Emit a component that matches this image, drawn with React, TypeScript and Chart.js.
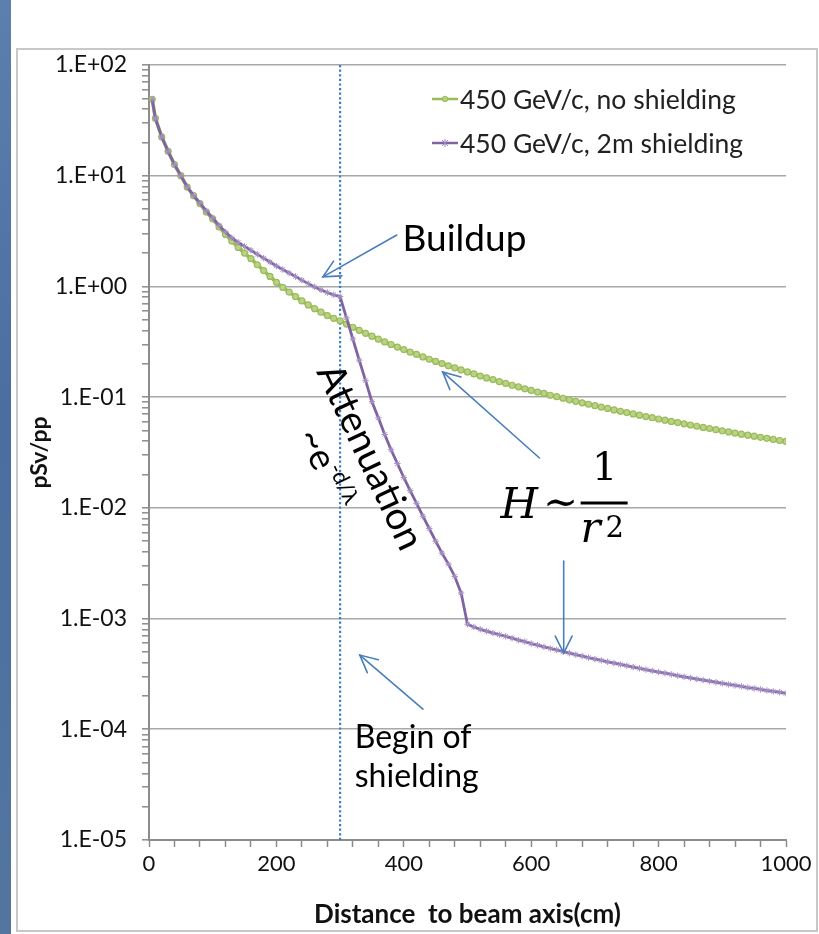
import React, { useEffect, useRef } from "react";
import { Chart, registerables } from "chart.js";

Chart.register(...registerables);

// ---------- data ----------
const distances = [
  5, 10, 20, 30, 40, 50, 60, 70, 80, 90, 100, 110, 120, 130, 140, 150, 160, 170, 180, 190, 200,
  210, 220, 230, 240, 250, 260, 270, 280, 290, 300,
  310, 320, 330, 340, 350, 360, 370, 380, 390, 400,
  410, 420, 430, 440, 450, 460, 470, 480, 490, 500,
  510, 520, 530, 540, 550, 560, 570, 580, 590, 600,
  610, 620, 630, 640, 650, 660, 670, 680, 690, 700,
  710, 720, 730, 740, 750, 760, 770, 780, 790, 800,
  810, 820, 830, 840, 850, 860, 870, 880, 890, 900,
  910, 920, 930, 940, 950, 960, 970, 980, 990, 1000,
];

const noShielding = [
  49, 33, 22.4, 16.6, 12.6, 10.0, 7.9, 6.6, 5.6, 4.7, 4.07, 3.45, 2.95, 2.57, 2.25, 2.0, 1.78, 1.57, 1.39, 1.23, 1.09,
  0.98, 0.89, 0.81, 0.74, 0.68, 0.63, 0.585, 0.545, 0.515, 0.49,
  0.457, 0.428, 0.401, 0.377, 0.355, 0.334, 0.315, 0.299, 0.283, 0.269,
  0.255, 0.243, 0.231, 0.22, 0.21, 0.201, 0.192, 0.184, 0.176, 0.169,
  0.162, 0.155, 0.149, 0.144, 0.138, 0.133, 0.128, 0.124, 0.119, 0.115,
  0.111, 0.108, 0.104, 0.101, 0.0977, 0.0946, 0.0916, 0.0889, 0.0863, 0.0838,
  0.0813, 0.0791, 0.0767, 0.0746, 0.0726, 0.0706, 0.0687, 0.0668, 0.0652, 0.0635,
  0.0619, 0.0604, 0.0589, 0.0574, 0.056, 0.0546, 0.0533, 0.0521, 0.0508, 0.0497,
  0.0485, 0.0474, 0.0463, 0.0453, 0.0444, 0.0434, 0.0425, 0.0415, 0.0406, 0.0398,
];

const shielding2m = [
  49, 33, 22.4, 16.6, 12.6, 10.0, 7.9, 6.6, 5.65, 4.8, 4.15, 3.55, 3.1, 2.75, 2.5, 2.3, 2.12, 1.95, 1.8, 1.66, 1.53,
  1.42, 1.32, 1.23, 1.14, 1.06, 0.99, 0.93, 0.88, 0.84, 0.81,
  0.52, 0.335, 0.216, 0.141, 0.091, 0.065, 0.046, 0.0335, 0.0251, 0.0188,
  0.0143, 0.011, 0.0084, 0.0065, 0.005, 0.0039, 0.0031, 0.0024, 0.0017, 0.00089,
  0.00084, 0.0008, 0.00077, 0.00074, 0.000715, 0.00069, 0.000665, 0.00064, 0.00062, 0.000595,
  0.000575, 0.000555, 0.000537, 0.00052, 0.000503, 0.000487, 0.000472, 0.000458, 0.000444, 0.000431,
  0.000419, 0.000407, 0.000396, 0.000385, 0.000375, 0.000365, 0.000355, 0.000346, 0.000337, 0.000329,
  0.000321, 0.000313, 0.000305, 0.000298, 0.000291, 0.000284, 0.000278, 0.000272, 0.000266, 0.00026,
  0.000254, 0.000249, 0.000244, 0.000238, 0.000234, 0.000229, 0.000224, 0.00022, 0.000216, 0.000211,
];

const seriesLabels = ["450 GeV/c, no shielding", "450 GeV/c, 2m shielding"];

const yMajorTicks = [1e-5, 1e-4, 1e-3, 1e-2, 1e-1, 1, 10, 100];
const yTickLabels = ["1.E-05", "1.E-04", "1.E-03", "1.E-02", "1.E-01", "1.E+00", "1.E+01", "1.E+02"];
const xTickLabels = [0, 200, 400, 600, 800, 1000];
const xMinorStep = 40;

const shieldStart = 300;

// annotation anchors, in data coordinates (distance, pSv/pp)
const buildupText = { d: 398, v: 2.09 };
const buildupArrow = { from: { d: 389, v: 2.91 }, to: { d: 273, v: 1.22 } };
const attenuationAnchor = { d: 262, v: 0.17 };
const formulaAnchor = { d: 552, v: 0.0081 };
const r2ArrowA = { from: { d: 613, v: 0.0282 }, to: { d: 461, v: 0.169 } };
const r2ArrowB = { from: { d: 651, v: 0.0033 }, to: { d: 651, v: 0.000488 } };
const beginArrow = { from: { d: 430, v: 0.000152 }, to: { d: 331, v: 0.000468 } };
const beginText = { d: 323, v: 6.8e-5 };

// ---------- styles ----------
const FONT = 'Lato, "Open Sans", sans-serif';
const MATH = '"DejaVu Serif", "Liberation Serif", serif';
const GREEN = "#9BBB59";
const PURPLE = "#8064A2";
const ARROW = "#4A7EBB";
const AXIS = "#8c8c8c";
const GRID = "#a8a8a8";

function buildYTicks() {
  const out: { value: number; major: boolean }[] = [];
  yMajorTicks.forEach((m, i) => {
    out.push({ value: m, major: true });
    if (i < yMajorTicks.length - 1) {
      for (let k = 2; k <= 9; k++) out.push({ value: parseFloat((m * k).toPrecision(3)), major: false });
    }
  });
  return out;
}

function buildXTicks() {
  const out: { value: number }[] = [];
  const max = xTickLabels[xTickLabels.length - 1];
  for (let v = xTickLabels[0]; v <= max; v += xMinorStep) out.push({ value: v });
  return out;
}

function drawArrow(ctx: CanvasRenderingContext2D, x1: number, y1: number, x2: number, y2: number) {
  ctx.save();
  ctx.strokeStyle = ARROW;
  ctx.lineWidth = 1.6;
  ctx.lineCap = "round";
  ctx.beginPath();
  ctx.moveTo(x1, y1);
  ctx.lineTo(x2, y2);
  ctx.stroke();
  const ang = Math.atan2(y2 - y1, x2 - x1);
  const len = 19;
  const spread = 0.46;
  ctx.beginPath();
  ctx.moveTo(x2 - len * Math.cos(ang - spread), y2 - len * Math.sin(ang - spread));
  ctx.lineTo(x2, y2);
  ctx.lineTo(x2 - len * Math.cos(ang + spread), y2 - len * Math.sin(ang + spread));
  ctx.stroke();
  ctx.restore();
}

const annotationPlugin = {
  id: "annotations",
  beforeDatasetsDraw(chart: any) {
    const { ctx, chartArea, scales } = chart;
    const x = scales.x.getPixelForValue(shieldStart);
    ctx.save();
    ctx.strokeStyle = "#3E7CC4";
    ctx.lineWidth = 2.2;
    ctx.setLineDash([2.2, 2.4]);
    ctx.beginPath();
    ctx.moveTo(x, chartArea.top);
    ctx.lineTo(x, chartArea.bottom);
    ctx.stroke();
    ctx.restore();
  },
  afterDraw(chart: any) {
    const { ctx, chartArea, scales } = chart;
    const P = (p: { d: number; v: number }) => [scales.x.getPixelForValue(p.d), scales.y.getPixelForValue(p.v)];

    // legend
    const items = [
      { label: seriesLabels[0], color: GREEN, style: "circle" },
      { label: seriesLabels[1], color: PURPLE, style: "star" },
    ];
    ctx.save();
    items.forEach((it, i) => {
      const lx = chartArea.left + 283;
      const ly = chartArea.top + 34 + i * 44;
      ctx.strokeStyle = it.color;
      ctx.lineWidth = 2.5;
      ctx.beginPath();
      ctx.moveTo(lx, ly);
      ctx.lineTo(lx + 26, ly);
      ctx.stroke();
      if (it.style === "circle") {
        ctx.fillStyle = "#b5d07e";
        ctx.beginPath();
        ctx.arc(lx + 13, ly, 2.8, 0, Math.PI * 2);
        ctx.fill();
        ctx.lineWidth = 1;
        ctx.stroke();
      } else {
        ctx.lineWidth = 1;
        ctx.strokeStyle = "#9d86c0";
        ctx.beginPath();
        ctx.moveTo(lx + 10, ly - 3);
        ctx.lineTo(lx + 16, ly + 3);
        ctx.moveTo(lx + 16, ly - 3);
        ctx.lineTo(lx + 10, ly + 3);
        ctx.moveTo(lx + 13, ly - 4);
        ctx.lineTo(lx + 13, ly + 4);
        ctx.stroke();
      }
      ctx.fillStyle = "#222";
      ctx.font = `26.5px ${FONT}`;
      ctx.textBaseline = "middle";
      ctx.textAlign = "left";
      ctx.fillText(it.label, lx + 28, ly + 1);
    });
    ctx.restore();

    // Buildup
    ctx.save();
    ctx.fillStyle = "#000";
    ctx.textBaseline = "alphabetic";
    ctx.font = `37px ${FONT}`;
    const [bx, by] = P(buildupText);
    ctx.fillText("Buildup", bx, by);
    ctx.restore();
    {
      const [x1, y1] = P(buildupArrow.from);
      const [x2, y2] = P(buildupArrow.to);
      drawArrow(ctx, x1, y1, x2, y2);
    }

    // Attenuation (rotated) with ~e^{-d/λ}
    {
      const [ax, ay] = P(attenuationAnchor);
      ctx.save();
      ctx.translate(ax, ay);
      ctx.rotate((64.8 * Math.PI) / 180);
      ctx.fillStyle = "#000";
      ctx.textBaseline = "alphabetic";
      ctx.font = `38.5px ${FONT}`;
      ctx.fillText("Attenuation", 0, 0);
      ctx.font = `37px ${FONT}`;
      const t1 = "~e";
      ctx.fillText(t1, 50, 44);
      const w1 = ctx.measureText(t1).width;
      ctx.font = `22px ${FONT}`;
      ctx.fillText("-d/\u03bb", 50 + w1 + 1, 30);
      ctx.restore();
    }

    // H ~ 1/r^2
    {
      const [hx, hy] = P(formulaAnchor);
      ctx.save();
      ctx.fillStyle = "#000";
      ctx.strokeStyle = "#000";
      ctx.textBaseline = "alphabetic";
      ctx.textAlign = "left";
      ctx.font = `italic 43px ${MATH}`;
      ctx.fillText("H", hx, hy);
      ctx.font = `42px ${MATH}`;
      ctx.textAlign = "center";
      ctx.fillText("\u223c", hx + 60, hy - 2);
      ctx.lineWidth = 2.8;
      ctx.beginPath();
      ctx.moveTo(hx + 80, hy - 15);
      ctx.lineTo(hx + 127, hy - 15);
      ctx.stroke();
      ctx.font = `40px ${MATH}`;
      ctx.fillText("1", hx + 104, hy - 38);
      ctx.textAlign = "left";
      ctx.font = `italic 42px ${MATH}`;
      ctx.fillText("r", hx + 80, hy + 24);
      ctx.font = `29px ${MATH}`;
      ctx.fillText("2", hx + 105, hy + 19);
      ctx.restore();
    }
    {
      const [x1, y1] = P(r2ArrowA.from);
      const [x2, y2] = P(r2ArrowA.to);
      drawArrow(ctx, x1, y1, x2, y2);
      const [x3, y3] = P(r2ArrowB.from);
      const [x4, y4] = P(r2ArrowB.to);
      drawArrow(ctx, x3, y3, x4, y4);
    }

    // Begin of shielding
    {
      const [x1, y1] = P(beginArrow.from);
      const [x2, y2] = P(beginArrow.to);
      drawArrow(ctx, x1, y1, x2, y2);
      const [tx, ty] = P(beginText);
      ctx.save();
      ctx.fillStyle = "#000";
      ctx.textBaseline = "alphabetic";
      ctx.textAlign = "left";
      ctx.font = `32px ${FONT}`;
      ctx.fillText("Begin of", tx, ty);
      ctx.fillText("shielding", tx, ty + 39);
      ctx.restore();
    }
  },
};

export default function App() {
  const ref = useRef<HTMLCanvasElement>(null);

  useEffect(() => {
    const canvas = ref.current;
    if (!canvas) return;
    const yTicks = buildYTicks();
    const xTicks = buildXTicks();
    const chart = new Chart(canvas, {
      type: "line",
      data: {
        datasets: [
          {
            label: seriesLabels[1],
            data: distances.map((d, i) => ({ x: d, y: shielding2m[i] })),
            borderColor: PURPLE,
            borderWidth: 2.8,
            pointStyle: "star",
            pointRadius: 3.2,
            pointBorderWidth: 1,
            pointBorderColor: "#a48fc4",
            pointBackgroundColor: "#a48fc4",
            tension: 0,
            order: 1,
          },
          {
            label: seriesLabels[0],
            data: distances.map((d, i) => ({ x: d, y: noShielding[i] })),
            borderColor: GREEN,
            borderWidth: 3.6,
            pointStyle: "circle",
            pointRadius: 3,
            pointBorderWidth: 1.2,
            pointBorderColor: GREEN,
            pointBackgroundColor: "#b9d386",
            tension: 0,
            order: 2,
          },
        ],
      },
      options: {
        responsive: false,
        animation: false,
        devicePixelRatio: 1,
        layout: { padding: { left: 20, top: 65, right: 33, bottom: 4 } },
        plugins: {
          legend: { display: false },
          tooltip: { enabled: false },
        },
        scales: {
          x: {
            type: "linear",
            min: 0,
            max: 1000,
            afterFit: (s: any) => {
              s.height = 90;
            },
            afterBuildTicks: (s: any) => {
              s.ticks = xTicks.map((t) => ({ ...t }));
            },
            ticks: {
              autoSkip: false,
              maxRotation: 0,
              padding: 4,
              color: "#111",
              font: { family: FONT, size: 22 },
              callback: (v: any) => (xTickLabels.includes(Number(v)) ? String(v) : ""),
            },
            grid: {
              drawOnChartArea: false,
              tickLength: 7,
              tickColor: AXIS,
              tickWidth: 1.5,
            },
            border: { color: AXIS, width: 2 },
            title: {
              display: true,
              text: "Distance  to beam axis(cm)",
              color: "#111",
              font: { family: FONT, size: 26, weight: "bold" },
              padding: { top: 0, bottom: 0 },
            },
          },
          y: {
            type: "logarithmic",
            min: 1e-5,
            max: 100,
            afterFit: (s: any) => {
              s.width = 129;
            },
            afterBuildTicks: (s: any) => {
              s.ticks = yTicks.map((t) => ({ ...t }));
            },
            ticks: {
              autoSkip: false,
              padding: 15,
              color: "#111",
              font: { family: FONT, size: 23 },
              callback: (v: any) => {
                const i = yMajorTicks.indexOf(Number(v));
                return i >= 0 ? yTickLabels[i] : "";
              },
            },
            grid: {
              color: (c: any) => (c.tick && c.tick.major ? GRID : "rgba(0,0,0,0)"),
              lineWidth: 1.6,
              tickLength: 7,
              tickColor: AXIS,
              tickWidth: 1.5,
            },
            border: { color: AXIS, width: 2 },
            title: {
              display: true,
              text: "pSv/pp",
              color: "#111",
              font: { family: FONT, size: 23, weight: "bold" },
              padding: { top: 6, bottom: 0 },
            },
          },
        },
      } as any,
      plugins: [annotationPlugin],
    });
    return () => chart.destroy();
  }, []);

  return (
    <div style={{ position: "fixed", left: 0, top: 0, width: 819, height: 934, background: "#fff", overflow: "hidden" }}>
      <div
        style={{
          position: "absolute",
          left: 0,
          top: 0,
          width: 11,
          height: 934,
          background: "linear-gradient(180deg, #5b80ae 0%, #4a6f9f 45%, #52769f 100%)",
        }}
      />
      <div
        style={{
          position: "absolute",
          left: 16,
          top: 48,
          width: 802,
          height: 884,
          border: "2px solid #c8c8c8",
          boxSizing: "border-box",
        }}
      />
      <canvas
        ref={ref}
        width={819}
        height={934}
        style={{ position: "absolute", left: 0, top: 0, width: 819, height: 934 }}
      />
    </div>
  );
}
